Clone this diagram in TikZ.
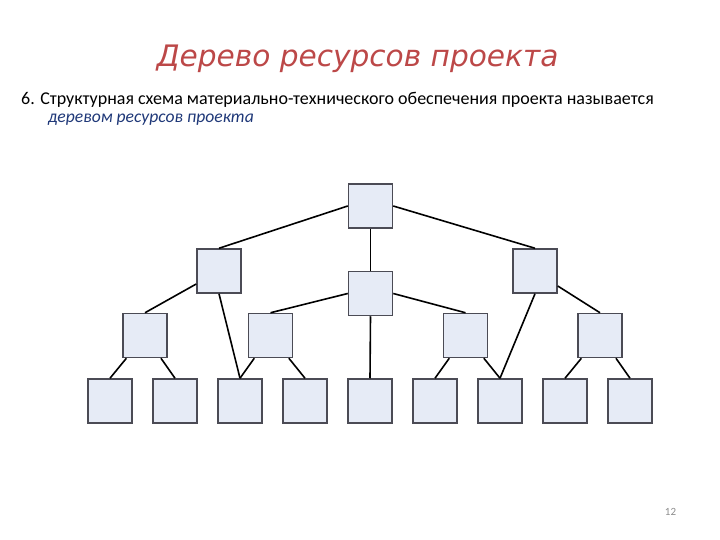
\documentclass[tikz,border=0pt]{standalone}
\usepackage{fontspec}
\setmainfont{Carlito}
\newfontfamily\titlefont{DejaVu Sans}
\definecolor{titlered}{RGB}{188,72,72}
\definecolor{textblue}{RGB}{31,56,120}
\definecolor{boxfill}{RGB}{230,235,246}
\definecolor{boxline}{RGB}{75,75,85}
\definecolor{pagegray}{RGB}{140,140,140}
\tikzset{
  res/.style={draw=boxline, line width=1.5pt, fill=boxfill, minimum width=44pt, minimum height=44pt, inner sep=0pt},
  link/.style={draw=black, line width=1.6pt}
}
\begin{document}
\begin{tikzpicture}[x=1pt,y=-1pt]
\useasboundingbox (0,0) rectangle (720,540);
% texts
\node[anchor=base, text=titlered, font=\titlefont\itshape\fontsize{29.6}{34}\selectfont] (title) at (357.5,67) {Дерево ресурсов проекта};
\node[anchor=base west, inner sep=0pt, font=\fontsize{18}{21}\selectfont] (line1) at (21,105) {6. Структурная схема материально-технического обеспечения проекта называется};
\node[anchor=base west, inner sep=0pt, text=textblue, font=\itshape\fontsize{17.6}{21}\selectfont] (line2) at (48,123) {деревом ресурсов проекта};
\node[anchor=base, inner sep=0pt, text=pagegray, font=\fontsize{11}{13}\selectfont] (page) at (670.5,515) {12};
% boxes
\node[res] (T) at (370.5,206) {};
\node[res] (A) at (219,271) {};
\node[res] (M) at (370.5,293.5) {};
\node[res] (B) at (535,271) {};
\node[res] (C1) at (145,335.5) {};
\node[res] (C2) at (270.5,335.5) {};
\node[res] (C3) at (465.5,335.5) {};
\node[res] (C4) at (600,335.5) {};
\foreach \i/\x in {1/110,2/175,3/240,4/305,5/370,6/435,7/500,8/565,9/630}
  \node[res] (L\i) at (\x,401) {};
% connectors
\draw[link] (T.west) -- (A.north);
\draw[link] (T.east) -- (B.north);
\draw[link] (T.south) -- (M.north);
\draw[link] (M.west) -- (C2.north);
\draw[link] (M.east) -- (C3.north);
\draw[link] (M.south) -- (L5.north);
\draw[link] ([yshift=-13pt]A.west) -- (C1.north);
\draw[link] (A.south) -- (L3.north);
\draw[link] ([yshift=-15pt]B.east) -- (C4.north);
\draw[link] (B.south) -- (L7.north);
\draw[link] (C1) -- (L1.north);
\draw[link] (C1) -- (L2.north);
\draw[link] (C2) -- (L3.north);
\draw[link] (C2) -- (L4.north);
\draw[link] (C3) -- (L6.north);
\draw[link] (C3) -- (L7.north);
\draw[link] (C4) -- (L8.north);
\draw[link] (C4) -- (L9.north);
\end{tikzpicture}
\end{document}
